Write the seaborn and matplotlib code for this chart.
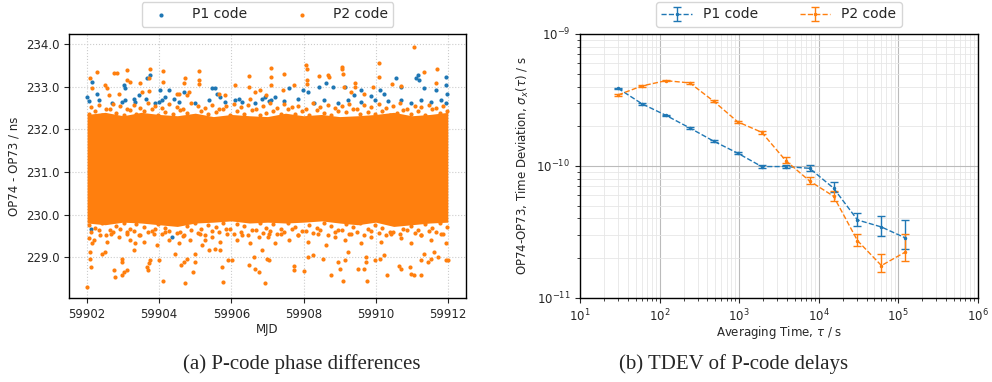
import numpy as np
import pandas as pd
import seaborn as sns
import matplotlib.pyplot as plt
from matplotlib.ticker import LogLocator, NullFormatter

# ------------------------
# 1. Data
# ------------------------

# (a) phase differences: solid core of the P2 cloud
band_mjd = [59902.0, 59902.5, 59903.0, 59903.5, 59904.0, 59904.5, 59905.0,
            59905.5, 59906.0, 59906.5, 59907.0, 59907.5, 59908.0, 59908.5,
            59909.0, 59909.5, 59910.0, 59910.5, 59911.0, 59911.5, 59912.0]
band_hi = [232.35, 232.40, 232.32, 232.40, 232.35, 232.32, 232.38, 232.30,
           232.35, 232.32, 232.30, 232.38, 232.32, 232.35, 232.30, 232.32,
           232.35, 232.40, 232.32, 232.35, 232.40]
band_lo = [229.80, 229.76, 229.82, 229.80, 229.76, 229.72, 229.80, 229.82,
           229.85, 229.80, 229.82, 229.80, 229.82, 229.85, 229.80, 229.76,
           229.82, 229.72, 229.76, 229.80, 229.82]

# speckled fringe just outside the core (two rows each side)
fringe_mjd_a = [59902.05, 59902.22, 59902.41, 59902.63, 59902.80, 59903.01, 59903.18, 59903.37, 59903.58, 59903.79,
                59903.97, 59904.16, 59904.38, 59904.57, 59904.76, 59904.98, 59905.17, 59905.36, 59905.58, 59905.77,
                59905.96, 59906.15, 59906.36, 59906.57, 59906.78, 59906.97, 59907.16, 59907.38, 59907.57, 59907.76,
                59907.95, 59908.16, 59908.37, 59908.58, 59908.77, 59908.96, 59909.17, 59909.36, 59909.57, 59909.78,
                59909.97, 59910.18, 59910.39, 59910.58, 59910.77, 59910.98, 59911.17, 59911.38, 59911.57, 59911.78,
                59911.97]
fringe_lo_a = [229.76, 229.68, 229.80, 229.64, 229.74, 229.80, 229.66, 229.78, 229.70, 229.62,
               229.77, 229.69, 229.80, 229.60, 229.73, 229.79, 229.65, 229.76, 229.70, 229.80,
               229.67, 229.78, 229.72, 229.63, 229.80, 229.69, 229.77, 229.66, 229.80, 229.71,
               229.62, 229.76, 229.68, 229.80, 229.73, 229.64, 229.78, 229.70, 229.80, 229.65,
               229.75, 229.69, 229.60, 229.79, 229.66, 229.74, 229.63, 229.77, 229.68, 229.80,
               229.71]
fringe_hi_a = [232.36, 232.44, 232.34, 232.47, 232.39, 232.34, 232.45, 232.37, 232.42, 232.48,
               232.33, 232.41, 232.35, 232.46, 232.38, 232.32, 232.43, 232.36, 232.40, 232.47,
               232.34, 232.42, 232.37, 232.45, 232.33, 232.39, 232.44, 232.35, 232.48, 232.37,
               232.42, 232.33, 232.46, 232.38, 232.34, 232.43, 232.40, 232.47, 232.35, 232.41,
               232.36, 232.44, 232.34, 232.39, 232.45, 232.37, 232.42, 232.34, 232.48, 232.38,
               232.43]
fringe_mjd_b = [59902.12, 59902.33, 59902.52, 59902.71, 59902.92, 59903.10, 59903.29, 59903.48, 59903.69, 59903.88,
                59904.07, 59904.27, 59904.48, 59904.67, 59904.88, 59905.07, 59905.27, 59905.47, 59905.67, 59905.86,
                59906.06, 59906.26, 59906.46, 59906.67, 59906.88, 59907.07, 59907.27, 59907.47, 59907.67, 59907.86,
                59908.06, 59908.27, 59908.47, 59908.67, 59908.87, 59909.06, 59909.27, 59909.47, 59909.67, 59909.87,
                59910.08, 59910.29, 59910.48, 59910.68, 59910.88, 59911.08, 59911.27, 59911.47, 59911.68, 59911.88]
fringe_lo_b = [229.58, 229.64, 229.53, 229.60, 229.66, 229.55, 229.62, 229.51, 229.59, 229.65,
               229.54, 229.61, 229.56, 229.50, 229.63, 229.57, 229.53, 229.62, 229.58, 229.65,
               229.55, 229.60, 229.52, 229.64, 229.57, 229.62, 229.54, 229.59, 229.65, 229.53,
               229.61, 229.56, 229.63, 229.52, 229.58, 229.64, 229.55, 229.60, 229.53, 229.62,
               229.57, 229.51, 229.59, 229.54, 229.63, 229.56, 229.52, 229.61, 229.58, 229.54]
fringe_hi_b = [232.52, 232.58, 232.49, 232.60, 232.54, 232.48, 232.57, 232.51, 232.62, 232.55,
               232.50, 232.59, 232.53, 232.48, 232.61, 232.56, 232.51, 232.58, 232.49, 232.54,
               232.60, 232.52, 232.57, 232.48, 232.55, 232.62, 232.50, 232.59, 232.53, 232.56,
               232.49, 232.61, 232.52, 232.58, 232.51, 232.55, 232.60, 232.48, 232.57, 232.53,
               232.59, 232.50, 232.54, 232.62, 232.49, 232.56, 232.52, 232.58, 232.51, 232.55]

# P1 points visible outside the orange cloud
p1_mjd = [59902.14, 59902.00, 59902.28, 59903.02, 59903.06, 59902.97, 59903.29,
          59903.66, 59903.75, 59903.43, 59904.03, 59904.26, 59904.17, 59903.99,
          59904.40, 59904.68, 59905.46, 59905.55, 59905.60, 59905.69, 59906.20,
          59906.29, 59906.85, 59906.94,
          59907.20, 59907.61, 59907.98, 59908.12, 59908.44, 59908.63, 59908.81,
          59909.14, 59909.41, 59909.60, 59909.87, 59910.11, 59910.24, 59910.57,
          59910.71, 59911.12, 59911.21, 59911.35, 59911.67, 59911.95, 59911.95,
          59911.98, 59911.17,
          59902.05, 59902.32, 59902.69, 59903.06, 59903.34, 59903.62, 59903.89,
          59904.08, 59904.54, 59905.00, 59905.37, 59905.83, 59906.11, 59906.66,
          59907.03,
          59907.10, 59907.47, 59907.84, 59908.30, 59908.58, 59908.95, 59909.23,
          59909.60, 59909.97, 59910.34, 59910.71, 59910.98, 59911.26, 59911.54,
          59911.81, 59911.95,
          59902.12, 59904.35]
p1_val = [233.12, 232.76, 232.84, 233.04, 232.96, 232.65, 232.72,
          233.21, 233.28, 232.80, 232.92, 232.92, 232.76, 232.65,
          232.72, 232.88, 232.96, 232.98, 232.84, 232.76, 232.72,
          232.65, 232.72, 232.75,
          232.76, 232.96, 232.92, 232.88, 233.00, 233.09, 233.00,
          233.00, 232.80, 232.92, 232.78, 232.92, 232.84, 233.20,
          233.00, 233.21, 233.16, 232.96, 232.92, 233.22, 233.04,
          232.84, 233.28,
          232.66, 232.70, 232.62, 232.68, 232.64, 232.72, 232.63,
          232.68, 232.65, 232.62, 232.70, 232.64, 232.68, 232.62,
          232.66,
          232.69, 232.66, 232.71, 232.63, 232.68, 232.62, 232.70,
          232.65, 232.69, 232.66, 232.68, 232.63, 232.69, 232.65,
          232.70, 232.62,
          229.65, 229.47]

# P2 points visible outside the dense cloud
p2_mjd = [59902.28, 59902.09, 59902.14, 59902.51, 59902.55, 59902.74, 59902.83,
          59903.11, 59903.11, 59903.20, 59903.48, 59903.74, 59903.71, 59904.11,
          59904.11, 59904.72, 59904.68, 59905.09, 59905.09, 59905.09, 59904.77,
          59904.49, 59906.11, 59906.48, 59906.48, 59902.60, 59902.88, 59903.52,
          59903.71, 59904.54, 59904.82, 59905.65, 59905.83, 59906.66, 59906.80,
          59906.52,
          59907.09, 59907.09, 59907.09, 59907.45, 59908.07, 59908.09, 59908.09,
          59908.09, 59908.44, 59908.67, 59908.72, 59909.06, 59909.07, 59909.10,
          59909.11, 59909.43, 59909.43, 59909.92, 59910.09, 59910.09, 59910.46,
          59910.71, 59911.07, 59911.33, 59911.70, 59911.67, 59909.32, 59909.69,
          59907.75, 59907.43, 59906.97,
          59902.00, 59902.11, 59902.09, 59902.09, 59902.14, 59902.42, 59902.51,
          59902.74, 59902.78, 59902.97, 59903.02, 59903.11, 59902.97, 59902.97,
          59903.29, 59903.34, 59903.66, 59903.71, 59903.69, 59903.75, 59904.10,
          59903.99, 59904.45, 59904.59, 59904.68, 59904.72, 59904.77, 59904.95,
          59905.00, 59905.00, 59905.19, 59905.37, 59905.55, 59905.74, 59905.76,
          59905.69, 59905.92, 59906.02, 59906.48, 59906.62, 59906.66, 59906.76,
          59906.94, 59907.03, 59906.85,
          59906.99, 59907.75, 59907.75, 59908.01, 59908.12, 59908.26, 59908.54,
          59908.77, 59908.95, 59909.00, 59909.09, 59909.14, 59909.23, 59909.51,
          59909.69, 59909.74, 59909.75, 59909.74, 59909.97, 59910.11, 59910.24,
          59910.32, 59910.66, 59910.71, 59910.94, 59910.98, 59911.07, 59911.26,
          59911.26, 59911.44, 59911.54, 59911.72, 59911.95, 59912.00, 59911.35,
          59911.63,
          59902.05, 59902.18, 59902.37, 59902.55, 59902.65, 59902.88, 59903.11,
          59903.20, 59903.43, 59903.57, 59903.85, 59903.94, 59904.17, 59904.26,
          59904.54, 59904.68, 59904.86, 59905.14, 59905.28, 59905.46, 59905.69,
          59905.88, 59906.16, 59906.29, 59906.52, 59906.76, 59907.03,
          59907.01, 59907.20, 59907.38, 59907.61, 59907.84, 59908.12, 59908.40,
          59908.63, 59908.86, 59909.14, 59909.32, 59909.60, 59909.87, 59910.15,
          59910.43, 59910.71, 59910.98, 59911.26, 59911.54, 59911.81, 59911.95]
p2_val = [233.35, 233.21, 232.96, 233.04, 232.96, 233.33, 233.33,
          233.39, 233.16, 233.12, 233.09, 233.42, 233.20, 233.37,
          233.12, 233.21, 233.08, 233.37, 233.17, 233.06, 232.80,
          232.83, 233.04, 233.25, 233.00, 232.80, 232.84, 232.88,
          232.90, 232.84, 232.88, 232.84, 232.80, 232.88, 232.92,
          232.72,
          233.45, 233.24, 233.04, 233.31, 233.51, 233.41, 233.17,
          233.06, 233.26, 233.28, 233.22, 233.47, 233.41, 233.31,
          233.00, 233.09, 233.00, 233.00, 233.57, 233.24, 233.06,
          233.02, 233.94, 233.34, 233.41, 233.09, 232.88, 232.83,
          233.04, 232.92, 232.80,
          228.30, 228.77, 228.96, 229.12, 229.32, 229.08, 229.12,
          228.69, 228.53, 228.57, 228.65, 228.69, 228.89, 228.96,
          229.16, 229.32, 228.77, 228.85, 228.69, 228.93, 228.44,
          228.93, 229.08, 228.81, 228.89, 228.38, 228.96, 228.65,
          228.89, 229.08, 229.28, 229.16, 229.20, 228.77, 228.42,
          229.16, 228.94, 228.94, 228.81, 229.00, 228.73, 228.65,
          228.38, 228.93, 229.16,
          228.96, 228.80, 228.70, 228.67, 229.00, 229.04, 228.96,
          228.59, 228.88, 228.72, 228.45, 228.92, 229.12, 228.72,
          228.72, 228.88, 228.43, 229.00, 228.92, 228.96, 229.04,
          228.59, 228.80, 228.72, 228.76, 228.61, 228.59, 228.57,
          228.92, 228.88, 228.96, 229.00, 228.92, 228.92, 229.08,
          229.12,
          229.44, 229.40, 229.51, 229.36, 229.55, 229.47, 229.59,
          229.41, 229.51, 229.36, 229.55, 229.28, 229.59, 229.40,
          229.32, 229.51, 229.40, 229.55, 229.40, 229.47, 229.36,
          229.55, 229.40, 229.51, 229.32, 229.47, 229.55,
          229.47, 229.32, 229.55, 229.40, 229.51, 229.36, 229.55,
          229.28, 229.47, 229.40, 229.55, 229.32, 229.47, 229.36,
          229.55, 229.44, 229.32, 229.51, 229.40, 229.55, 229.32]

# (b) TDEV
tau = [30, 60, 120, 240, 480, 960, 1920, 3840, 7680, 15360, 30720, 61440, 122880]
p1_tdev = [3.88e-10, 2.96e-10, 2.42e-10, 1.94e-10, 1.54e-10, 1.25e-10, 0.99e-10,
           0.99e-10, 0.96e-10, 6.8e-11, 3.9e-11, 3.45e-11, 2.85e-11]
p1_err_lo = [0.05e-10, 0.04e-10, 0.03e-10, 0.02e-10, 0.02e-10, 0.02e-10, 0.02e-10,
             0.03e-10, 0.05e-10, 0.5e-11, 0.4e-11, 0.5e-11, 0.5e-11]
p1_err_hi = [0.05e-10, 0.04e-10, 0.03e-10, 0.02e-10, 0.02e-10, 0.02e-10, 0.02e-10,
             0.03e-10, 0.06e-10, 0.7e-11, 0.5e-11, 0.75e-11, 1.05e-11]
p2_tdev = [3.45e-10, 4.04e-10, 4.43e-10, 4.26e-10, 3.09e-10, 2.16e-10, 1.80e-10,
           1.10e-10, 7.7e-11, 5.9e-11, 2.72e-11, 1.76e-11, 2.23e-11]
p2_err_lo = [0.05e-10, 0.05e-10, 0.05e-10, 0.05e-10, 0.05e-10, 0.04e-10, 0.05e-10,
             0.05e-10, 0.4e-11, 0.5e-11, 0.25e-11, 0.2e-11, 0.33e-11]
p2_err_hi = [0.05e-10, 0.05e-10, 0.05e-10, 0.05e-10, 0.05e-10, 0.04e-10, 0.05e-10,
             0.06e-10, 0.5e-11, 0.6e-11, 0.35e-11, 0.4e-11, 0.83e-11]

# ------------------------
# 2. Figure
# ------------------------
sns.set_style("white")
plt.rcParams['font.family'] = ['DejaVu Sans']
plt.rcParams['mathtext.fontset'] = 'dejavusans'

fig = plt.figure(figsize=(9.92, 3.82), dpi=100)
ax1 = fig.add_axes([0.0696, 0.220, 0.400, 0.691])
ax2 = fig.add_axes([0.5847, 0.220, 0.401, 0.691])

c1, c2 = '#1f77b4', '#ff7f0e'

# (a) scatter
df1 = pd.DataFrame({'MJD': p1_mjd, 'diff': p1_val})
df2 = pd.DataFrame({
    'MJD': p2_mjd + fringe_mjd_a + fringe_mjd_b + fringe_mjd_a + fringe_mjd_b,
    'diff': p2_val + fringe_lo_a + fringe_lo_b + fringe_hi_a + fringe_hi_b,
})
sns.scatterplot(data=df1, x='MJD', y='diff', ax=ax1, color=c1, s=9,
                linewidth=0, label='P1 code', zorder=2)
ax1.fill_between(band_mjd, band_lo, band_hi, color=c2, lw=0, zorder=2.5)
sns.scatterplot(data=df2, x='MJD', y='diff', ax=ax1, color=c2, s=9,
                linewidth=0, label='P2 code', zorder=3)
ax1.set_xticks([59902, 59904, 59906, 59908, 59910, 59912])
ax1.set_xticklabels(['59902', '59904', '59906', '59908', '59910', '59912'])
ax1.set_yticks([229, 230, 231, 232, 233, 234])
ax1.set_yticklabels(['229.0', '230.0', '231.0', '232.0', '233.0', '234.0'])
ax1.set_xlim(59901.5, 59912.5)
ax1.set_ylim(228.04, 234.24)
ax1.grid(True, ls=':', color='#cccccc', lw=0.8)
ax1.set_xlabel('MJD', fontsize=8.5, labelpad=2)
ax1.set_ylabel('OP74 - OP73 / ns', fontsize=8.5)
ax1.tick_params(labelsize=8.5, length=3.5, direction='out', bottom=True, left=True)
ax1.legend(loc='lower center', bbox_to_anchor=(0.5, 1.0), ncol=2, fontsize=10,
           markerscale=1.0, handletextpad=1.2, columnspacing=3.0,
           frameon=True, borderaxespad=0.5)

# (b) TDEV
ax2.errorbar(tau, p1_tdev, yerr=[p1_err_lo, p1_err_hi], fmt='.--', color=c1,
             ms=3, lw=1, capsize=3, elinewidth=1, label='P1 code')
ax2.errorbar(tau, p2_tdev, yerr=[p2_err_lo, p2_err_hi], fmt='.--', color=c2,
             ms=3, lw=1, capsize=3, elinewidth=1, label='P2 code')
ax2.set_xscale('log')
ax2.set_yscale('log')
ax2.set_xlim(10, 1e6)
ax2.set_ylim(1e-11, 1e-9)
ax2.xaxis.set_major_locator(LogLocator(base=10, numticks=10))
ax2.xaxis.set_minor_locator(LogLocator(base=10, subs=np.arange(2, 10), numticks=20))
ax2.xaxis.set_minor_formatter(NullFormatter())
ax2.yaxis.set_minor_locator(LogLocator(base=10, subs=np.arange(2, 10), numticks=20))
ax2.yaxis.set_minor_formatter(NullFormatter())
ax2.grid(True, which='major', color='#bbbbbb', lw=0.8)
ax2.grid(True, which='minor', color='#e6e6e6', lw=0.6)
ax2.set_xlabel(r'Averaging Time, $\tau$ / s', fontsize=8.5, labelpad=0)
ax2.set_ylabel(r'OP74-OP73, Time Deviation, $\sigma_x(\tau)$ / s', fontsize=8.5)
ax2.tick_params(which='both', labelsize=8.5, direction='out', bottom=True, left=True)
ax2.tick_params(which='major', length=3.5)
ax2.tick_params(which='minor', length=2)
ax2.legend(loc='lower center', bbox_to_anchor=(0.5, 1.0), ncol=2, fontsize=10,
           handlelength=2.2, columnspacing=3.0, frameon=True, borderaxespad=0.5)

for ax in (ax1, ax2):
    for sp in ax.spines.values():
        sp.set_color('black')
        sp.set_linewidth(1.0)

# captions
fig.text(302 / 992, 0.046, '(a) P-code phase differences', ha='center', va='center',
         fontsize=15, family='Liberation Serif')
fig.text(734 / 992, 0.046, '(b) TDEV of P-code delays', ha='center', va='center',
         fontsize=15, family='Liberation Serif')

fig.savefig('out.png', dpi=100)
